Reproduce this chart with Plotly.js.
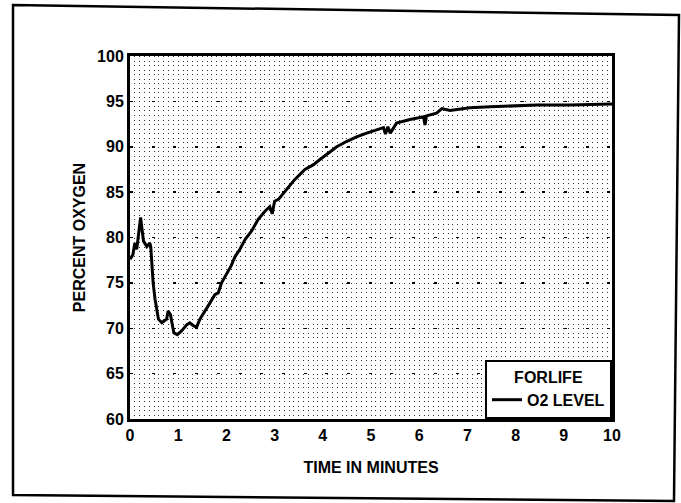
<!DOCTYPE html>
<html>
<head>
<meta charset="utf-8">
<script src="https://cdn.plot.ly/plotly-3.0.1.min.js"></script>
<style>html,body{margin:0;padding:0;background:#fff;}#chart{width:681px;height:503px;}</style>
</head>
<body>
<div id="chart"></div>
<script>
// Data
const seriesName = "O2 LEVEL";
const legendTitle = "FORLIFE";
const timeMin = [0, 0.06, 0.10, 0.14, 0.22, 0.28, 0.35, 0.41, 0.43, 0.48, 0.52, 0.59, 0.66, 0.76, 0.79, 0.84, 0.87, 0.91, 0.98, 1.07, 1.18, 1.24, 1.31, 1.38, 1.45, 1.59, 1.66, 1.76, 1.83, 1.90, 2.01, 2.10, 2.18, 2.28, 2.39, 2.52, 2.66, 2.80, 2.90, 2.95, 3.00, 3.08, 3.25, 3.42, 3.63, 3.80, 3.94, 4.11, 4.29, 4.50, 4.70, 4.91, 5.12, 5.26, 5.30, 5.35, 5.40, 5.53, 5.81, 6.09, 6.12, 6.15, 6.36, 6.47, 6.64, 7.05, 7.47, 7.88, 8.44, 9.13, 10.0];
const o2Level = [77.6, 78.1, 79.4, 78.7, 82.2, 79.6, 79.0, 79.4, 79.0, 75.0, 73.2, 71.0, 70.6, 71.0, 71.9, 71.5, 70.6, 69.5, 69.3, 69.7, 70.4, 70.6, 70.3, 70.1, 71.0, 72.3, 72.8, 73.7, 73.9, 75.0, 76.1, 76.9, 77.9, 78.7, 79.8, 80.7, 82.0, 82.9, 83.4, 82.6, 84.0, 84.2, 85.3, 86.4, 87.5, 88.0, 88.6, 89.3, 90.0, 90.6, 91.1, 91.5, 91.9, 92.1, 91.4, 92.2, 91.5, 92.6, 93.0, 93.3, 92.4, 93.4, 93.7, 94.2, 94.0, 94.3, 94.4, 94.5, 94.6, 94.6, 94.7];
const xTickVals = [0, 1, 2, 3, 4, 5, 6, 7, 8, 9, 10];
const xTickText = ["0", "1", "2", "3", "4", "5", "6", "7", "8", "9", "10"];
const yTickVals = [60, 65, 70, 75, 80, 85, 90, 95, 100];
const yTickText = ["60", "65", "70", "75", "80", "85", "90", "95", "100"];
const xTitle = "TIME IN MINUTES";
const yTitle = "PERCENT OXYGEN";

const FONT = "Liberation Sans, Arial, Helvetica, sans-serif";

const trace = {
  x: timeMin,
  y: o2Level,
  type: "scatter",
  mode: "lines",
  name: seriesName,
  line: {color: "#000", width: 3},
  showlegend: true
};

const layout = {
  width: 681,
  height: 503,
  margin: {l: 130, r: 69, t: 56, b: 84},
  paper_bgcolor: "#fff",
  plot_bgcolor: "#fff",
  font: {family: FONT, color: "#000", size: 16, weight: "bold"},
  showlegend: true,
  legend: {
    x: 1, y: 0, xanchor: "right", yanchor: "bottom",
    bgcolor: "#fff", bordercolor: "#000", borderwidth: 2,
    font: {family: FONT, size: 16, color: "#000", weight: "bold"},
    title: {text: legendTitle, side: "top center", font: {family: FONT, size: 16, color: "#000", weight: "bold"}},
    itemwidth: 30
  },
  xaxis: {
    range: [0, 10],
    tickvals: xTickVals,
    ticktext: xTickText,
    ticks: "",
    showline: true, linecolor: "#000", linewidth: 3, mirror: true,
    showgrid: true, gridcolor: "#333", gridwidth: 1, griddash: "1px,3.54px",
    minor: {dtick: 0.1, showgrid: true, gridcolor: "#333", gridwidth: 1, griddash: "1px,3.54px"},
    zeroline: false,
    tickfont: {family: FONT, size: 16, color: "#000", weight: "bold"},
    title: {text: xTitle, standoff: 19, font: {family: FONT, size: 16, color: "#000", weight: "bold"}},
    fixedrange: true
  },
  yaxis: {
    range: [60, 100],
    tickvals: yTickVals,
    ticktext: yTickText,
    ticks: "",
    showline: true, linecolor: "#000", linewidth: 3, mirror: true,
    showgrid: true, gridcolor: "#000", gridwidth: 1.5, griddash: "3px,18.7px",
    zeroline: false,
    tickfont: {family: FONT, size: 16, color: "#000", weight: "bold"},
    title: {text: yTitle, standoff: 8, font: {family: FONT, size: 16, color: "#000", weight: "bold"}},
    fixedrange: true
  },
  shapes: [{
    type: "path", xref: "paper", yref: "paper",
    path: "M -0.2427 1.1405 L 1.1390 1.1129 L 1.1286 -0.2259 L -0.2427 -0.2094 Z",
    line: {color: "#000", width: 2.5}, fillcolor: "rgba(0,0,0,0)", layer: "below"
  }],
  hovermode: false
};

Plotly.newPlot("chart", [trace], layout, {displayModeBar: false, staticPlot: true});
</script>
</body>
</html>
